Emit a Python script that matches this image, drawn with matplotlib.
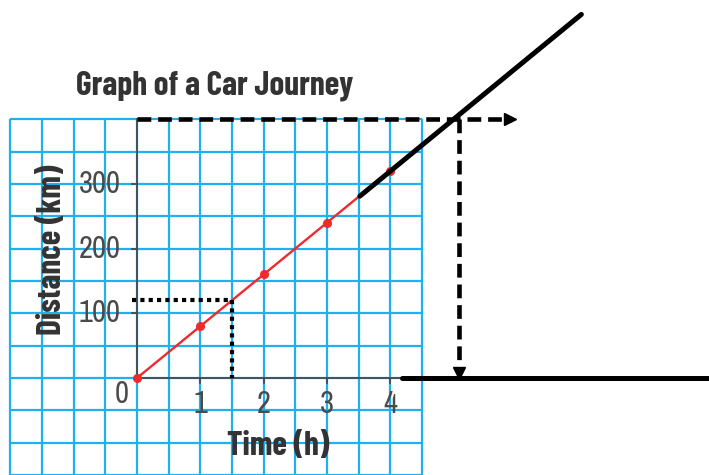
import numpy as np
import matplotlib
matplotlib.use("Agg")
import matplotlib.pyplot as plt

# --- data ---
times = [0, 1, 2, 3, 4]                 # hours (red points)
distances = [0, 80, 160, 240, 320]      # km
red_line_t = [0, 4.4]                   # red line runs a bit past the last point
red_line_d = [0, 352]
ext_t = [3.52, 7.02]                    # black extension of the line
ext_d = [281, 562]
read_t, read_d = 1.5, 120               # dotted read-off
target_t, target_d = 5.08, 400          # dashed read-off
arrow_end_t = 5.95
base_t = [4.19, 9.2]                    # black baseline drawn on the time axis
x_ticks = [1, 2, 3, 4]
y_ticks = [100, 200, 300]

GRID = '#1fb0ef'
RED = '#ee2a2e'
AXIS = '#4a4a4a'
TEXT = '#333333'
TICK_FONT = ['Archivo Narrow', 'DejaVu Sans']
LABEL_FONT = ['Barlow Condensed', 'DejaVu Sans']

# axes fill the whole image; limits chosen so 1 h = 63.3 px and 100 km = 64.7 px
px_h, px_km = 63.3, 0.647
x0, y0 = 137, 378
W, H = 709, 475

fig = plt.figure(figsize=(W / 100, H / 100), dpi=100)
ax = fig.add_axes([0, 0, 1, 1])
ax.set_xlim(-x0 / px_h, (W - x0) / px_h)
ax.set_ylim(-(H - y0) / px_km, y0 / px_km)
ax.axis('off')

# --- blue graph paper ---
gx = np.arange(-2, 4.51, 0.5)
gy = np.arange(-150, 401, 50)
ax.vlines(gx, -150, 400, color=GRID, lw=1.6, zorder=1)
ax.hlines(gy, -2, 4.5, color=GRID, lw=1.6, zorder=1)

# --- axes, ticks, tick labels ---
ax.plot([0, 0], [0, 400], color=AXIS, lw=1.3, zorder=2)
ax.plot([0, 4.5], [0, 0], color=AXIS, lw=1.3, zorder=2)
tk = dict(fontsize=22, family=TICK_FONT, stretch='condensed', color=AXIS, zorder=3)
for t in x_ticks:
    ax.plot([t, t], [0, -8], color=AXIS, lw=1.3, zorder=2)
    ax.text(t, -40, str(t), ha='center', va='center', **tk)
for d in y_ticks:
    ax.plot([0, -0.08], [d, d], color=AXIS, lw=1.3, zorder=2)
    ax.text(-0.26, d, str(d), ha='right', va='center', **tk)
ax.text(-0.245, -25, '0', ha='center', va='center', **tk)

# --- labels ---
lb = dict(fontsize=24, fontweight='bold', family=LABEL_FONT, stretch='condensed', color=TEXT)
ax.text(1.23, 451, 'Graph of a Car Journey', ha='center', va='center', **lb)
ax.text(-1.34, 198, 'Distance (km)', ha='center', va='center', rotation=90, **lb)
ax.text(2.23, -105, 'Time (h)', ha='center', va='center', **lb)

# --- the journey ---
ax.plot(red_line_t, red_line_d, color=RED, lw=1.7, zorder=4)
ax.plot(times, distances, 'o', color=RED, ms=5.5, zorder=5)

# --- black overlays ---
ax.plot(ext_t, ext_d, color='black', lw=3.6, solid_capstyle='round', zorder=6)
ax.plot(base_t, [0, 0], color='black', lw=3.6, solid_capstyle='round', zorder=6)

ax.plot([-0.08, read_t], [read_d, read_d], color='black', lw=3, ls=(0, (1, 1)), zorder=6)
ax.plot([read_t, read_t], [read_d, 0], color='black', lw=3, ls=(0, (1, 1)), zorder=6)

ax.plot([0, arrow_end_t - 0.12], [target_d, target_d], color='black', lw=3.3,
        ls=(0, (3.0, 1.5)), zorder=6)
ax.plot(arrow_end_t - 0.06, target_d, '>', color='black', ms=8, zorder=7)
ax.plot([target_t, target_t], [target_d, 12], color='black', lw=3.3,
        ls=(0, (3.0, 1.5)), zorder=6)
ax.plot(target_t, 8, 'v', color='black', ms=8, zorder=7)

fig.savefig('out.png', dpi=100)
